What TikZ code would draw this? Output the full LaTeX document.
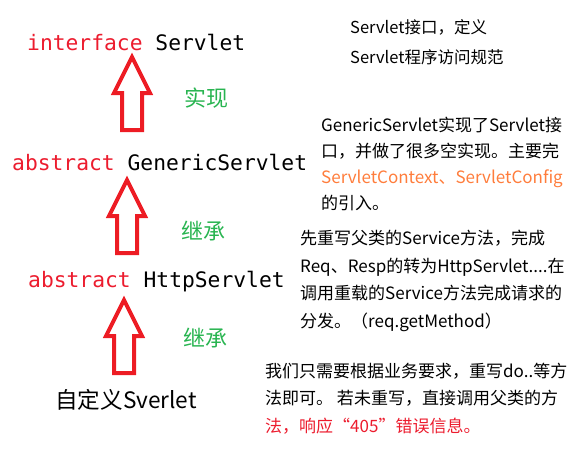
\documentclass[tikz,border=0pt]{standalone}
\usepackage{fontspec}
\setmonofont{DejaVu Sans Mono}
\newfontfamily\cjk{Noto Sans CJK SC}
\definecolor{kwred}{RGB}{236,28,46}
\definecolor{arrowred}{RGB}{237,28,36}
\definecolor{relgreen}{RGB}{40,180,80}
\definecolor{cfgorange}{RGB}{255,125,60}
\newcommand\kw[1]{\textcolor{kwred}{#1}}
\tikzset{
hollowup/.pic={
\draw[arrowline] (0,0) -- (18,36) -- (10,36) -- (10,73) -- (-10,73) -- (-10,36) -- (-18,36) -- cycle;
}
}

\begin{document}
\begin{tikzpicture}[
x=1pt,y=-1pt,
cls/.style={anchor=base west,inner sep=0pt,font=\ttfamily\fontsize{21.3}{24}\selectfont},
own/.style={anchor=base west,inner sep=0pt,font=\cjk\fontsize{22.6}{24}\selectfont},
rel/.style={inner sep=0pt,text=relgreen,font=\cjk\fontsize{22}{24}\selectfont},
note/.style={anchor=base west,inner sep=0pt,align=left,font=\cjk\fontsize{17}{27.5}\selectfont},
arrowline/.style={draw=arrowred,line width=4pt,miter limit=20}
]
\useasboundingbox (0,0) rectangle (569,448);

% class chain
\node[cls] (servlet) at (27,50) {\kw{interface} Servlet};
\node[cls] (generic) at (12,170) {\kw{abstract} GenericServlet};
\node[cls] (http) at (28,287) {\kw{abstract} HttpServlet};
\node[own] (custom) at (55,408) {自定义Sverlet};

\pic at (132,57) {hollowup};
\pic at (127,180) {hollowup};
\pic at (124,300) {hollowup};

\node[rel] (impl) at (206,98) {实现};
\node[rel] (inh1) at (203,231) {继承};
\node[rel] (inh2) at (205,338) {继承};

% notes (anchored at the last line)
\node[note,font=\cjk\fontsize{16.5}{30}\selectfont] (servletnote) at (350,63)
{Servlet接口，定义\\Servlet程序访问规范};
\node[note,font=\cjk\fontsize{17}{26}\selectfont] (genericnote) at (321,209)
{GenericServlet实现了Servlet接\\口，并做了很多空实现。主要完\\\textcolor{cfgorange}{ServletContext、ServletConfig}\\的引入。};
\node[note] (httpnote) at (300,327)
{先重写父类的Service方法，完成\\Req、Resp的转为HttpServlet....在\\调用重载的Service方法完成请求的\\分发。（req.getMethod）};
\node[note] (customnote) at (265,432)
{我们只需要根据业务要求，重写do..等方\\法即可。 若未重写，直接调用父类的方\\\textcolor{kwred}{法，响应“405”错误信息。}};

\end{tikzpicture}
\end{document}
